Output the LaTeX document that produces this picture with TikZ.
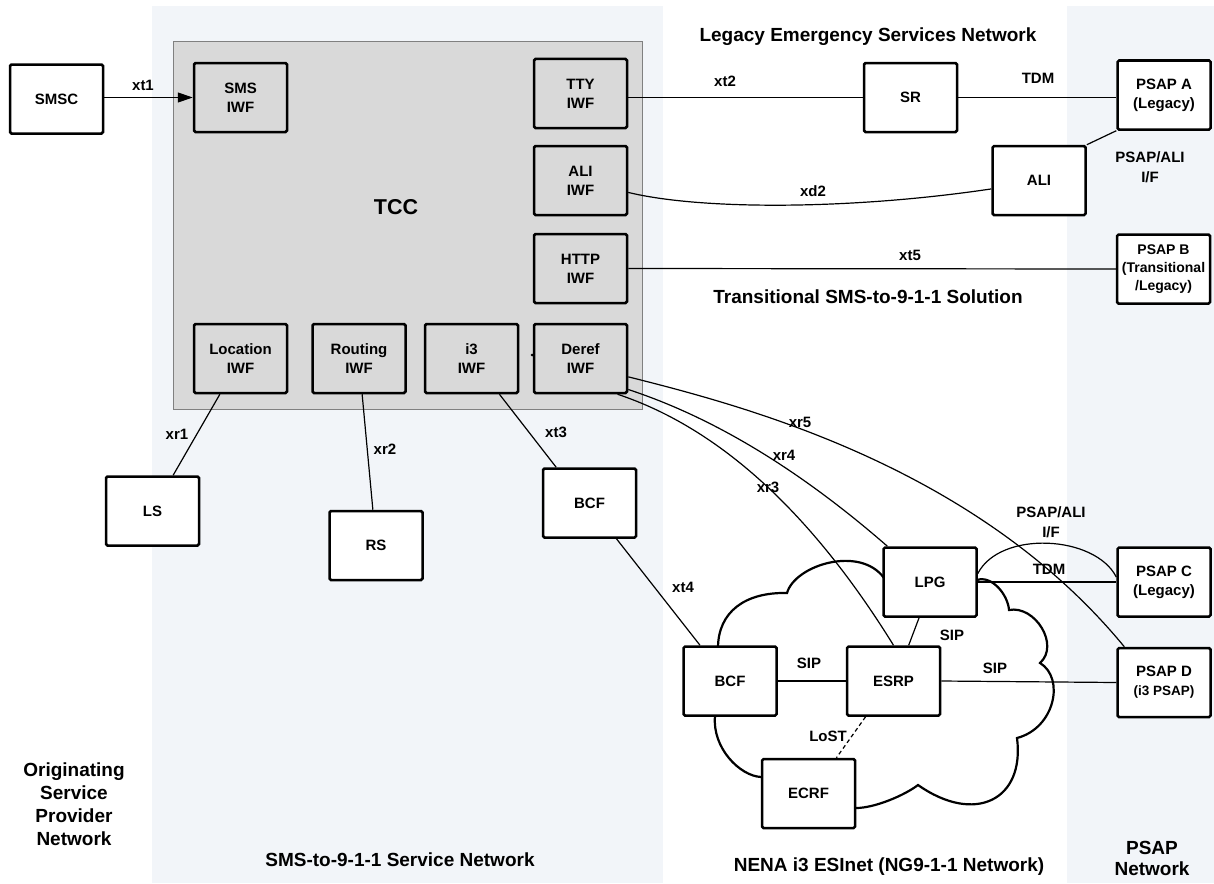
\documentclass[tikz,border=0pt]{standalone}
\usepackage{fontspec}
\setmainfont{Liberation Sans}
\usetikzlibrary{arrows.meta}
\definecolor{bandc}{RGB}{242,245,249}
\definecolor{tccfill}{RGB}{217,217,217}
\definecolor{tccline}{RGB}{128,128,128}
\begin{document}
\begin{tikzpicture}[x=1pt,y=-1pt,
  box/.style={draw=black, line width=2.5pt, fill=white, minimum width=93pt, minimum height=69pt, inner sep=0pt, align=center, rounded corners=1.5pt, font=\fontsize{15}{19}\selectfont\bfseries},
  iwf/.style={box, fill=tccfill},
  conn/.style={line width=1.2pt},
  cloudline/.style={line width=2.2pt},
  lbl/.style={font=\fontsize{15}{20}\selectfont\bfseries, inner sep=0pt, align=center},
  biglbl/.style={font=\fontsize{19}{23}\selectfont\bfseries, inner sep=0pt, align=center},
]
\useasboundingbox (0,0) rectangle (1214,883);
% background bands
\fill[bandc] (152,6) rectangle (663,883);
\fill[bandc] (1067,6) rectangle (1214,883);
% TCC container
\node[draw=tccline, fill=tccfill, line width=1pt, minimum width=469pt, minimum height=368pt, inner sep=0pt] (tcc) at (407.5,225.5) {};
\node[font=\fontsize{21.5}{24}\selectfont\bfseries, inner sep=0pt] (tcclbl) at (396,207) {TCC};
\fill (532,355) circle (1.5pt);
% cloud
\draw[cloudline] (718,648) .. controls (718,612) and (745,592) .. (787,593)
  .. controls (795,565) and (860,545) .. (884,578)
  -- (977,580)
  .. controls (992,575) and (1008,595) .. (1009,610)
  .. controls (1035,605) and (1060,645) .. (1040,663)
  .. controls (1065,678) and (1055,728) .. (1017,738)
  .. controls (1025,800) and (975,825) .. (918,785)
  .. controls (905,795) and (875,808) .. (856,808)
  -- (761,777)
  .. controls (740,776) and (712,748) .. (715,716)
  -- cycle;
% nodes
\node[box] (smsc) at (56.5,99) {SMSC};
\node[iwf] (smsiwf) at (240.5,97.5) {SMS\\IWF};
\node[iwf] (tty) at (580.5,93.5) {TTY\\IWF};
\node[iwf] (aliiwf) at (580.5,180.5) {ALI\\IWF};
\node[iwf] (http) at (580.5,268.5) {HTTP\\IWF};
\node[iwf] (loc) at (240.5,358.5) {Location\\IWF};
\node[iwf] (routing) at (359,358.5) {Routing\\IWF};
\node[iwf] (i3) at (471.5,358.5) {i3\\IWF};
\node[iwf] (deref) at (580.5,358.5) {Deref\\IWF};
\node[box] (ls) at (152.5,511) {LS};
\node[box] (rs) at (376,545.5) {RS};
\node[box] (bcfa) at (589.5,503) {BCF};
\node[box] (bcfb) at (730,681) {BCF};
\node[box] (esrp) at (893.5,681) {ESRP};
\node[box] (lpg) at (930,582) {LPG};
\node[box] (ecrf) at (808.5,793.5) {ECRF};
\node[box] (sr) at (910.5,97.5) {SR};
\node[box] (ali) at (1039,180.5) {ALI};
\node[box] (psapa) at (1164,95) {PSAP A\\(Legacy)};
\node[box, font=\fontsize{14}{18}\selectfont\bfseries] (psapb) at (1163.5,269) {PSAP B\\(Transitional\\/Legacy)};
\node[box] (psapc) at (1164,582) {PSAP C\\(Legacy)};
\node[box] (psapd) at (1164,682.5) {PSAP D\\{\fontsize{13.5}{19}\selectfont(i3 PSAP)}};
% connectors
\draw[conn, -{Triangle[length=15pt,width=10pt]}] (smsc.east |- smsiwf.west) -- (smsiwf.west);
\draw[conn] (tty.east |- sr.west) -- (sr.west);
\draw[conn] (sr.east) -- (sr.east -| psapa.west);
\draw[conn] (aliiwf.-14) .. controls (700,210) and (850,210) .. (ali.190);
\draw[conn] (ali.north east) -- (psapa.south west);
\draw[conn] (http.east) -- (psapb.west);
\draw[conn] (loc.240) -- (ls.60);
\draw[conn] (routing.-85) -- (rs.95);
\draw[conn] (i3.-52) -- (bcfa.133);
\draw[conn] (bcfa.-53) -- (bcfb.130);
\draw[conn] (deref.-21) .. controls (740,405) and (975,465) .. (psapd.138);
\draw[conn] (deref.-33) .. controls (715,418) and (801,471) .. (lpg.140);
\draw[conn] (deref.-44) .. controls (719,428) and (811,512) .. (esrp.north);
\draw[conn] (bcfb.east) -- (esrp.west);
\draw[conn] (esrp.east) -- (psapd.west);
\draw[conn] (lpg.-107) -- (esrp.67);
\draw[conn] (lpg.east) -- (psapc.west);
\draw[conn] (lpg.10) .. controls (1000,530) and (1095,535) .. (psapc.174);
\draw[conn, dash pattern=on 4pt off 3pt] (esrp.-128) -- (ecrf.52);
% labels
\node[lbl] (lxt1) at (143,85) {xt1};
\node[lbl] (lxt2) at (725,81) {xt2};
\node[lbl] (ltdma) at (1038,78) {TDM};
\node[lbl] (lxd2) at (813,191) {xd2};
\node[lbl] (lpsapali) at (1150,167) {PSAP/ALI\\I/F};
\node[lbl] (lxt5) at (910,255) {xt5};
\node[lbl] (lxr1) at (177,434) {xr1};
\node[lbl] (lxr2) at (385,449) {xr2};
\node[lbl] (lxt3) at (556,432) {xt3};
\node[lbl] (lxr5) at (800,422) {xr5};
\node[lbl] (lxr4) at (784,455) {xr4};
\node[lbl] (lxr3) at (768,487) {xr3};
\node[lbl] (lxt4) at (683,587) {xt4};
\node[lbl] (lpsapali2) at (1051,522) {PSAP/ALI\\I/F};
\node[lbl] (ltdmc) at (1049,569) {TDM};
\node[lbl] (lsip1) at (809,663) {SIP};
\node[lbl] (lsip2) at (952,635) {SIP};
\node[lbl] (lsip3) at (995,668) {SIP};
\node[lbl] (llost) at (828,736) {LoST};
\node[biglbl] (lleg) at (868,37) {Legacy Emergency Services Network};
\node[biglbl] (ltrans) at (868,297) {Transitional SMS-to-9-1-1 Solution};
\node[biglbl] (lorig) at (74,804) {Originating\\Service\\Provider\\Network};
\node[biglbl] (lsms) at (400,860) {SMS-to-9-1-1 Service Network};
\node[biglbl] (lnena) at (889,867) {NENA i3 ESInet (NG9-1-1 Network)};
\node[biglbl, font=\fontsize{19}{21}\selectfont\bfseries] (lpsapnet) at (1152,858) {PSAP\\Network};
\end{tikzpicture}
\end{document}
